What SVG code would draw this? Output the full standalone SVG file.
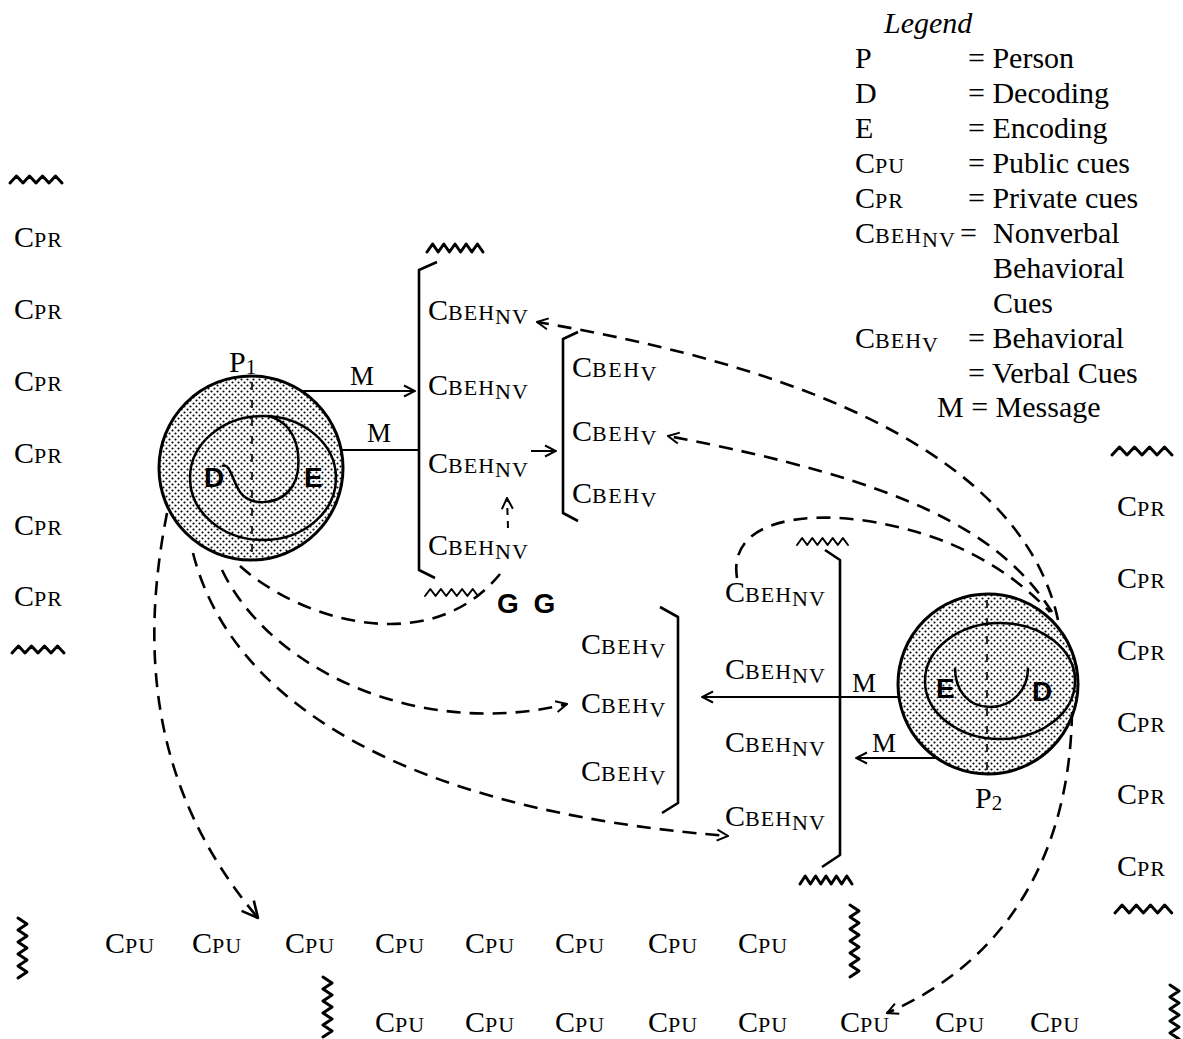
<svg xmlns="http://www.w3.org/2000/svg" width="1183" height="1039" viewBox="0 0 1183 1039">
<style>
text{font-family:"Liberation Serif","Times New Roman",serif;fill:#000}
.c{font-size:30px}
.s{font-size:22px;letter-spacing:1px}
.lg{font-size:30px}
.it{font-size:30px;font-style:italic}
.m{font-size:27px}
.b{font-family:"Liberation Sans",Arial,sans-serif;font-weight:bold;font-size:28px}
.ln{fill:none;stroke:#000;stroke-width:2}
.br{fill:none;stroke:#000;stroke-width:2.6;stroke-linejoin:round}
.dash{fill:none;stroke:#000;stroke-width:2.6;stroke-dasharray:14 9}
.wv{fill:none;stroke:#000;stroke-width:3;stroke-linejoin:round;stroke-linecap:round}
.wt{fill:none;stroke:#000;stroke-width:2;stroke-linejoin:round;stroke-linecap:round}
</style>
<defs>
<pattern id="dots" width="6" height="6" patternUnits="userSpaceOnUse"><circle cx="1.5" cy="1.5" r="1.05" fill="#000"/><circle cx="4.5" cy="4.5" r="1.05" fill="#000"/></pattern>
<marker id="ah" viewBox="0 0 14 14" refX="13" refY="7" markerWidth="14" markerHeight="14" markerUnits="userSpaceOnUse" orient="auto"><path d="M2,1.5 L13,7 L2,12.5" fill="none" stroke="#000" stroke-width="2" stroke-dasharray="none"/></marker>
<marker id="ahB" viewBox="0 0 20 20" refX="19" refY="10" markerWidth="20" markerHeight="20" markerUnits="userSpaceOnUse" orient="auto"><path d="M3,2 L19,10 L3,18" fill="none" stroke="#000" stroke-width="2.6" stroke-dasharray="none"/></marker>
</defs>
<rect width="1183" height="1039" fill="#fff"/>

<g id="legend">
<text class="it" x="884" y="33">Legend</text>
<text class="lg" x="855" y="68">P</text><text class="lg" x="968" y="68">= Person</text>
<text class="lg" x="855" y="103">D</text><text class="lg" x="968" y="103">= Decoding</text>
<text class="lg" x="855" y="138">E</text><text class="lg" x="968" y="138">= Encoding</text>
<text x="855" y="173"><tspan class="c">C</tspan><tspan class="s">PU</tspan></text><text class="lg" x="968" y="173">= Public cues</text>
<text x="855" y="208"><tspan class="c">C</tspan><tspan class="s">PR</tspan></text><text class="lg" x="968" y="208">= Private cues</text>
<text x="855" y="243"><tspan class="c">C</tspan><tspan class="s">BEH</tspan><tspan class="s" dy="4">NV</tspan></text><text class="lg" x="960" y="243">= <tspan x="993">Nonverbal</tspan></text>
<text class="lg" x="993" y="278">Behavioral</text>
<text class="lg" x="993" y="313">Cues</text>
<text x="855" y="348"><tspan class="c">C</tspan><tspan class="s">BEH</tspan><tspan class="s" dy="4">V</tspan></text><text class="lg" x="968" y="348">= Behavioral</text>
<text class="lg" x="968" y="383">= Verbal Cues</text>
<text class="lg" x="937" y="417">M = Message</text>
</g>

<g id="private-cues-left">
<path class="wv" d="M10,183 l6.5,-7 l6.5,7 l6.5,-7 l6.5,7 l6.5,-7 l6.5,7 l6.5,-7 l6.5,7"/>
<text x="14" y="247"><tspan class="c">C</tspan><tspan class="s">PR</tspan></text>
<text x="14" y="319"><tspan class="c">C</tspan><tspan class="s">PR</tspan></text>
<text x="14" y="391"><tspan class="c">C</tspan><tspan class="s">PR</tspan></text>
<text x="14" y="463"><tspan class="c">C</tspan><tspan class="s">PR</tspan></text>
<text x="14" y="535"><tspan class="c">C</tspan><tspan class="s">PR</tspan></text>
<text x="14" y="606"><tspan class="c">C</tspan><tspan class="s">PR</tspan></text>
<path class="wv" d="M12,653 l6.5,-7 l6.5,7 l6.5,-7 l6.5,7 l6.5,-7 l6.5,7 l6.5,-7 l6.5,7"/>
</g>

<g id="private-cues-right">
<path class="wv" d="M1112,455 l7.5,-8 l7.5,8 l7.5,-8 l7.5,8 l7.5,-8 l7.5,8 l7.5,-8 l7.5,8"/>
<text x="1117" y="516"><tspan class="c">C</tspan><tspan class="s">PR</tspan></text>
<text x="1117" y="588"><tspan class="c">C</tspan><tspan class="s">PR</tspan></text>
<text x="1117" y="660"><tspan class="c">C</tspan><tspan class="s">PR</tspan></text>
<text x="1117" y="732"><tspan class="c">C</tspan><tspan class="s">PR</tspan></text>
<text x="1117" y="804"><tspan class="c">C</tspan><tspan class="s">PR</tspan></text>
<text x="1117" y="876"><tspan class="c">C</tspan><tspan class="s">PR</tspan></text>
<path class="wv" d="M1115,913 l7.1,-8 l7.1,8 l7.1,-8 l7.1,8 l7.1,-8 l7.1,8 l7.1,-8 l7.1,8"/>
</g>

<g id="p1">
<circle cx="251" cy="468" r="92" fill="url(#dots)" stroke="#000" stroke-width="3"/>
<ellipse cx="263" cy="478" rx="73" ry="62" fill="none" stroke="#000" stroke-width="2.5"/>
<path d="M222,466 C230,462 232,480 240,492 C250,506 275,505 288,492 C302,478 302,446 288,428 C282,421 276,418 268,416" fill="none" stroke="#000" stroke-width="2.5"/>
<line x1="252" y1="382" x2="252" y2="558" stroke="#000" stroke-width="1.6" stroke-dasharray="8 10"/>
<text class="b" x="204" y="487">D</text>
<text class="b" x="304" y="487">E</text>
<text class="lg" x="229" y="372">P<tspan font-size="21" dy="2">1</tspan></text>
</g>

<g id="p2">
<circle cx="988" cy="684" r="90" fill="url(#dots)" stroke="#000" stroke-width="3"/>
<ellipse cx="1000" cy="681" rx="75" ry="58" fill="none" stroke="#000" stroke-width="2.5"/>
<path d="M955,668 C955,690 968,707 990,707 C1012,707 1028,690 1028,668" fill="none" stroke="#000" stroke-width="2.5"/>
<line x1="987" y1="600" x2="987" y2="770" stroke="#000" stroke-width="1.6" stroke-dasharray="8 10"/>
<text class="b" x="936" y="698">E</text>
<text class="b" x="1032" y="701">D</text>
<text class="lg" x="975" y="808">P<tspan font-size="21" dy="2">2</tspan></text>
</g>

<g id="nv-group-1">
<path class="wv" d="M427,252 l5.6,-8 l5.6,8 l5.6,-8 l5.6,8 l5.6,-8 l5.6,8 l5.6,-8 l5.6,8 l5.6,-8 l5.6,8" stroke-width="3.4"/>
<path class="br" d="M437,262 L419,270 L419,570 L435,578"/>
<path class="wt" d="M425,596 l5.3,-7 l5.3,7 l5.3,-7 l5.3,7 l5.3,-7 l5.3,7 l5.3,-7 l5.3,7 l5.3,-7 l5.3,7"/>
<text x="428" y="320"><tspan class="c">C</tspan><tspan class="s">BEH</tspan><tspan class="s" dy="4">NV</tspan></text>
<text x="428" y="395"><tspan class="c">C</tspan><tspan class="s">BEH</tspan><tspan class="s" dy="4">NV</tspan></text>
<text x="428" y="473"><tspan class="c">C</tspan><tspan class="s">BEH</tspan><tspan class="s" dy="4">NV</tspan></text>
<text x="428" y="555"><tspan class="c">C</tspan><tspan class="s">BEH</tspan><tspan class="s" dy="4">NV</tspan></text>
<text class="b" x="497" y="613" font-size="27" word-spacing="7">G G</text>
</g>

<g id="v-group-1">
<path class="br" d="M578,332 L563,339 L563,513 L578,521"/>
<text x="572" y="377"><tspan class="c">C</tspan><tspan class="s" style="letter-spacing:1.5px">BEH</tspan><tspan class="s" dy="4">V</tspan></text>
<text x="572" y="441"><tspan class="c">C</tspan><tspan class="s" style="letter-spacing:1.5px">BEH</tspan><tspan class="s" dy="4">V</tspan></text>
<text x="572" y="503"><tspan class="c">C</tspan><tspan class="s" style="letter-spacing:1.5px">BEH</tspan><tspan class="s" dy="4">V</tspan></text>
</g>

<g id="v-group-2">
<path class="br" d="M660,607 L678,617 L678,803 L662,813"/>
<text x="581" y="654"><tspan class="c">C</tspan><tspan class="s" style="letter-spacing:1.5px">BEH</tspan><tspan class="s" dy="4">V</tspan></text>
<text x="581" y="713"><tspan class="c">C</tspan><tspan class="s" style="letter-spacing:1.5px">BEH</tspan><tspan class="s" dy="4">V</tspan></text>
<text x="581" y="781"><tspan class="c">C</tspan><tspan class="s" style="letter-spacing:1.5px">BEH</tspan><tspan class="s" dy="4">V</tspan></text>
</g>

<g id="nv-group-2">
<path class="wt" d="M797,545 l5.1,-7 l5.1,7 l5.1,-7 l5.1,7 l5.1,-7 l5.1,7 l5.1,-7 l5.1,7 l5.1,-7 l5.1,7"/>
<path class="br" d="M825,550 L840,560 L840,855 L822,867"/>
<path class="wv" d="M800,884 l5.2,-8 l5.2,8 l5.2,-8 l5.2,8 l5.2,-8 l5.2,8 l5.2,-8 l5.2,8 l5.2,-8 l5.2,8" stroke-width="3.4"/>
<text x="725" y="602"><tspan class="c">C</tspan><tspan class="s">BEH</tspan><tspan class="s" dy="4">NV</tspan></text>
<text x="725" y="679"><tspan class="c">C</tspan><tspan class="s">BEH</tspan><tspan class="s" dy="4">NV</tspan></text>
<text x="725" y="752"><tspan class="c">C</tspan><tspan class="s">BEH</tspan><tspan class="s" dy="4">NV</tspan></text>
<text x="725" y="826"><tspan class="c">C</tspan><tspan class="s">BEH</tspan><tspan class="s" dy="4">NV</tspan></text>
</g>

<g id="public-cues">
<path class="wv" d="M18,918 l9,6 l-9,6 l9,6 l-9,6 l9,6 l-9,6 l9,6 l-9,6 l9,6 l-9,6"/>
<path class="wv" d="M850,905 l9,6 l-9,6 l9,6 l-9,6 l9,6 l-9,6 l9,6 l-9,6 l9,6 l-9,6 l9,6 l-9,6"/>
<path class="wv" d="M323,977 l9,6 l-9,6 l9,6 l-9,6 l9,6 l-9,6 l9,6 l-9,6 l9,6 l-9,6"/>
<path class="wv" d="M1170,985 l9,6 l-9,6 l9,6 l-9,6 l9,6 l-9,6 l9,6 l-9,6 l9,6"/>
<text x="105" y="953"><tspan class="c">C</tspan><tspan class="s">PU</tspan></text>
<text x="192" y="953"><tspan class="c">C</tspan><tspan class="s">PU</tspan></text>
<text x="285" y="953"><tspan class="c">C</tspan><tspan class="s">PU</tspan></text>
<text x="375" y="953"><tspan class="c">C</tspan><tspan class="s">PU</tspan></text>
<text x="465" y="953"><tspan class="c">C</tspan><tspan class="s">PU</tspan></text>
<text x="555" y="953"><tspan class="c">C</tspan><tspan class="s">PU</tspan></text>
<text x="648" y="953"><tspan class="c">C</tspan><tspan class="s">PU</tspan></text>
<text x="738" y="953"><tspan class="c">C</tspan><tspan class="s">PU</tspan></text>
<text x="375" y="1032"><tspan class="c">C</tspan><tspan class="s">PU</tspan></text>
<text x="465" y="1032"><tspan class="c">C</tspan><tspan class="s">PU</tspan></text>
<text x="555" y="1032"><tspan class="c">C</tspan><tspan class="s">PU</tspan></text>
<text x="648" y="1032"><tspan class="c">C</tspan><tspan class="s">PU</tspan></text>
<text x="738" y="1032"><tspan class="c">C</tspan><tspan class="s">PU</tspan></text>
<text x="840" y="1032"><tspan class="c">C</tspan><tspan class="s">PU</tspan></text>
<text x="935" y="1032"><tspan class="c">C</tspan><tspan class="s">PU</tspan></text>
<text x="1030" y="1032"><tspan class="c">C</tspan><tspan class="s">PU</tspan></text>
</g>

<g id="connectors">
<line class="ln" x1="301" y1="391" x2="415" y2="391" marker-end="url(#ah)"/>
<text class="m" x="350" y="385">M</text>
<line class="ln" x1="341" y1="450" x2="419" y2="450"/>
<text class="m" x="367" y="442">M</text>
<line class="ln" x1="531" y1="451" x2="556" y2="451" marker-end="url(#ah)"/>
<line class="ln" x1="898" y1="697" x2="702" y2="697" marker-end="url(#ah)"/>
<text class="m" x="852" y="692">M</text>
<line class="ln" x1="936" y1="758" x2="856" y2="758" marker-end="url(#ah)"/>
<text class="m" x="872" y="752">M</text>
<line x1="508" y1="528" x2="507" y2="498" stroke="#000" stroke-width="2" stroke-dasharray="7 6" marker-end="url(#ah)"/>
<path class="dash" d="M1058,620 C1030,490 880,380 537,322" marker-end="url(#ah)"/>
<path class="dash" d="M1052,612 C1000,530 900,480 668,436" marker-end="url(#ah)"/>
<path class="dash" d="M737,578 C728,522 800,512 860,520 C950,532 1010,570 1050,612"/>
<path class="dash" d="M1072,712 C1070,850 1010,960 887,1013" marker-end="url(#ah)"/>
<path class="dash" d="M240,566 C300,620 430,660 500,574"/>
<path class="dash" d="M222,570 C270,670 420,740 567,704" marker-end="url(#ah)"/>
<path class="dash" d="M193,553 C230,700 400,810 728,836" marker-end="url(#ah)"/>
<path class="dash" d="M167,513 C140,650 150,790 258,918" marker-end="url(#ahB)"/>
</g>
</svg>
